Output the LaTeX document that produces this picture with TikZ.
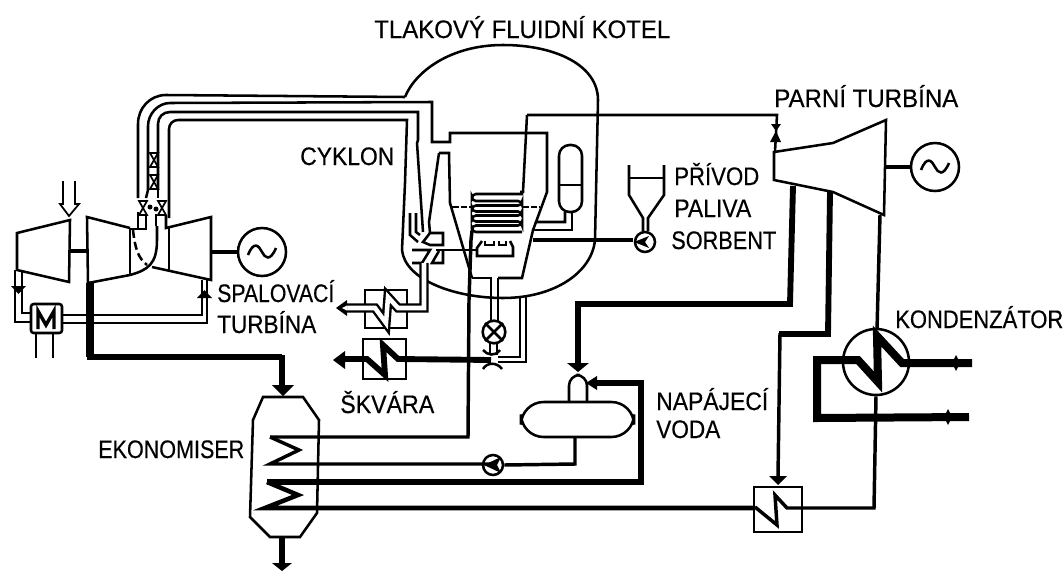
\documentclass[tikz,border=0pt]{standalone}
\usepackage{fontspec}
\setmainfont{Liberation Sans}
\newcommand{\lab}[5]{\node[anchor=base west,inner sep=0pt] (#1) at (#2,#3) {\resizebox{\dimexpr #4pt*3/4\relax}{\height}{\fontsize{19pt}{22pt}\selectfont\addfontfeature{FakeBold=0.4} #5}};}
\tikzset{
  x=0.75pt,y=-0.75pt,
  t1/.style={line width=1.3pt},
  t2/.style={line width=1.9pt},
  t3/.style={line width=2.6pt},
  t4/.style={line width=3.4pt},
  t5/.style={line width=4.4pt},
  t6/.style={line width=6pt},
  head/.style={fill=black,draw=none},
  gen/.style={circle,draw,t2,minimum size=36pt,inner sep=0pt},
  pumpc/.style={circle,draw,t2,minimum size=15pt,inner sep=0pt},
  tilde/.pic={\draw[t2] (-14,3) .. controls (-8,-12) and (-3,-6) .. (0,0) .. controls (3,6) and (8,10) .. (14,-4);},
  bow/.pic={\draw[t1] (-4,-7) -- (4,7) -- (-4,7) -- (4,-7) -- cycle;},
}
\begin{document}
\begin{tikzpicture}[line join=miter,t2]
\useasboundingbox (0,0) rectangle (1063,571);
% ---- labels
\lab{tk}{373}{38}{296}{TLAKOVÝ FLUIDNÍ KOTEL}
\lab{cy}{299}{165}{94}{CYKLON}
\lab{pt}{773}{107}{184}{PARNÍ TURBÍNA}
\lab{pr}{673}{185}{85}{PŘÍVOD}
\lab{pa}{673}{217}{77}{PALIVA}
\lab{so}{670}{249}{105}{SORBENT}
\lab{sp}{216}{302}{117}{SPALOVACÍ}
\lab{tu}{216}{333}{99}{TURBÍNA}
\lab{ko}{894}{328}{168}{KONDENZÁTOR}
\lab{na}{655}{410}{112}{NAPÁJECÍ}
\lab{vo}{655}{438}{64}{VODA}
\lab{sk}{339}{413}{94}{ŠKVÁRA}
\lab{ek}{97}{458}{146}{EKONOMISER}
% ---- left compressor
\draw (17,233) -- (70,220) -- (69,282) -- (17,270) -- cycle;
\draw[t1] (63,181) -- (63,204) -- (60,204) -- (69,216) -- (79,204) -- (75,204) -- (75,181);
\draw[t4] (70,251) -- (88,251);
% ---- gas turbine
\draw (130,228) -- (87,217) -- (88,283) -- (130,275) .. controls (148,270) and (157,264) .. (157,240) -- (157,226);
\draw (130,228) -- (130,275);
\draw (130,229) -- (146,229) -- (146,216);
\draw (166,216) -- (166,228) -- (211,217) -- (211,280) -- (152,267);
\draw (169,228) -- (169,270);
\draw[dash pattern=on 6pt off 3pt] (133,230) .. controls (135,248) and (138,258) .. (147,265);
\node[gen] (gen1) at (262,252) {};
\pic at (gen1) {tilde};
\draw[t4] (211,252) -- (gen1.west);
% ---- ducts
\draw (138,198) -- (138,124) .. controls (138,108) and (150,95) .. (166,95) -- (405,97);
\draw (148,190) -- (148,126) .. controls (148,114) and (158,103) .. (170,103) -- (432,102) -- (432,142) -- (450,142) -- (450,133) -- (547,133) -- (547,192) -- (536,222) -- (565,222) -- (565,212);
\draw (158,190) -- (158,124) .. controls (158,117) and (163,112) .. (170,112) -- (418,112) -- (418,140) -- (417,143) -- (423,232);
\draw (169,218) -- (169,129) .. controls (169,124) and (173,120) .. (178,120) -- (407,120) -- (405,183) -- (402,250);
\draw (148,190) -- (146,198); \draw (158,190) -- (158,198);
\pic at (154,160) {bow};
\pic at (154,182) {bow};
\draw[t1] (139,201) -- (147,215) -- (139,215) -- (147,201) -- cycle;
\draw[t1] (158,201) -- (166,215) -- (158,215) -- (166,201) -- cycle;
\fill (150,207) circle[radius=2.5]; \fill (156,209) circle[radius=2.5];
\draw (138,212) -- (138,228);
\draw (156,214) -- (156,226);
% ---- M box
\draw[t2,rounded corners=2] (31,304) rectangle (62,333);
\draw[t3] (38,329) -- (38,311) -- (46,325) -- (54,311) -- (54,329);
\draw (15,270) -- (15,322) -- (31,322);
\draw (22,271) -- (22,313) -- (31,313);
\fill (11,286) -- (26,286) -- (18.5,294) -- cycle;
\draw (36,333) -- (36,358); \draw (53,333) -- (53,358);
\draw (62,315) -- (202,315) -- (202,280);
\draw (62,323) -- (207,323) -- (207,280);
\fill (197,298) -- (212,298) -- (204.5,290) -- cycle;
% ---- main flue to economiser
\draw[t6] (90,283) -- (90,357);
\draw[t5] (87,357) -- (282,357);
\draw[line width=5.2pt] (282,355) -- (282,386);
\fill[head] (272,385) -- (294,385) -- (283,396) -- cycle;
% ---- vessel
\draw (405,97) .. controls (415,72) and (450,45) .. (503,45) .. controls (555,45) and (598,65) .. (598,100) -- (595,240) .. controls (592,272) and (555,298) .. (503,298) .. controls (455,298) and (405,280) .. (402,250);
% ---- cyclone, bed
\draw (439,153) -- (449,153) -- (450,203) -- (472,278);
\draw (439,153) -- (429,222) -- (430,233);
\draw (536,222) -- (533,230) -- (522,278) -- (498,278);
\draw (533,230) -- (572,230) -- (572,212);
\draw (492,278) -- (472,278);
\draw[rounded corners=8] (559,185) -- (559,145) -- (582,145) -- (582,212) -- (559,212) -- cycle;
\draw (559,185) -- (582,185);
\draw[dash pattern=on 5pt off 1.5pt] (452,207) -- (472,207) (522,207) -- (540,207);
% serpentine
\draw[t2] (527,115) -- (523,192) -- (520,192);
\draw (527,115) -- (777,115) -- (775,152);
\draw[t2,rounded corners=3] (523,194) -- (472,194) -- (472,201) -- (522,201) -- (522,205.5) -- (472,205.5) -- (472,211.5) -- (522,211.5) -- (522,215.5) -- (472,215.5) -- (472,221.5) -- (522,221.5) -- (522,225.5) -- (472,225.5) -- (472,232) -- (522,232);
\draw[t3] (472,231) -- (471,240) -- (469,300) -- (468,437) -- (270,437);
\draw (482,241) -- (477,248) -- (477,256) -- (513,256) -- (513,247) -- (510,241);
\draw (485,241) -- (485,245) -- (494,245) -- (494,241);
\draw (499,241) -- (499,245) -- (506,245) -- (506,241);
\draw[t4] (533,240) -- (633,240);
\node[pumpc] (pump0) at (645,242) {};
\fill (634,242) -- (649,236) -- (645,242) -- (649,248) -- cycle;
\draw (629,165) -- (629,195) -- (643,218) -- (643,231);
\draw (664,165) -- (664,195) -- (648,218) -- (648,231);
\draw (629,178) -- (664,178);
% seal
\draw (410,213) -- (410,235) -- (418,242);
\draw (416,213) -- (416,232) -- (420,235);
\draw (423,242) -- (430,233) -- (443,233) -- (443,245) -- (430,245) -- cycle;
\draw (412,250) -- (430,250) -- (422,263) -- (412,263);
\draw (436,250) -- (476,250);
\draw (443,250) -- (443,263) -- (432,263) -- (439,251);
% ---- gas outlet exchanger
\draw (365,290) rectangle (407,328);
\draw[line width=7pt,line join=miter] (347,308) -- (375,308) -- (386,323) -- (388,297) -- (398,308) -- (424,308) -- (424,263);
\draw[line width=3.4pt,white] (342,308) -- (375,308) -- (386,323) -- (388,297) -- (398,308) -- (424,308) -- (424,263);
\fill[head] (336,308) -- (347,300) -- (347,316) -- cycle;
\fill[white] (342,308) -- (347,305.5) -- (347,310.5) -- cycle;
% ---- ash
\draw (363,339) rectangle (406,379);
\draw[t5] (345,359) -- (367,359) -- (385,375) -- (383,345) -- (398,359) -- (491,360);
\fill[head] (333,360) -- (345,351) -- (345,369) -- cycle;
\draw (483,350) .. controls (487,355) and (495,357) .. (500,350);
\draw (483,369) .. controls (487,362) and (497,362) .. (502,369);
\node[circle,draw,t2,minimum size=17pt,inner sep=0pt] (ash) at (494,332) {};
\draw[t2] (ash.north west) -- (ash.south east) (ash.north east) -- (ash.south west);
\draw (491,278) -- (491,321);
\draw (498,278) -- (498,321);
\draw[t1] (490,342) -- (490,355); \draw[t1] (497,342) -- (497,355);
\draw[t1] (498,357) -- (520,357) -- (520,297);
\draw[t1] (498,362) -- (526,362) -- (526,297);
% ---- economiser
\draw (263,397) -- (303,397) -- (319,420) -- (317,513) -- (300,537) -- (270,537) -- (250,517) -- (253,420) -- cycle;
\draw[t3] (270,437) -- (299,450) -- (270,464) -- (493,464);
\draw[t4] (267,482) -- (298,495) -- (265,508) -- (755,508);
\draw[t5] (267,482) -- (641,482) -- (641,383) -- (595,383);
\fill[head] (586,383) -- (597,376) -- (597,390) -- cycle;
\draw[t5] (282,537) -- (282,563);
\fill[head] (272,563) -- (292,563) -- (282,571) -- cycle;
\node[pumpc] (pump1) at (493,465) {};
\fill (484,465) -- (501,457) -- (497,465) -- (501,473) -- cycle;
\draw[t3] (pump1.east) -- (575,464) -- (575,438);
% ---- feedwater tank
\draw[rounded corners=17] (521,402) rectangle (634,437);
\draw[rounded corners=8] (569,402) -- (569,375) -- (587,375) -- (587,402);
% ---- steam turbine
\draw (774,152) -- (833,143) -- (886,120) -- (884,215) -- (833,192) -- (774,180) -- cycle;
\fill (771,124) -- (781,124) -- (776,131) -- (770,142) -- (781,142) -- (776,131) -- cycle;
\node[gen] (gen2) at (935,167) {};
\pic at (gen2) {tilde};
\draw[t4] (885,167) -- (gen2.west);
\draw[t5] (793,186) -- (790,304) -- (578,304) -- (578,364);
\fill[head] (567,363) -- (589,363) -- (578,372) -- cycle;
\draw[t5] (830,192) -- (828,334) -- (779,334);
\draw[t3] (780,333) -- (778,477);
\fill[head] (769,476) -- (787,476) -- (778,485) -- cycle;
\draw[t3] (880,215) -- (877,330);
% ---- condenser
\node[circle,draw,t2,minimum size=49.5pt,inner sep=0pt] (cond) at (876,362) {};
\draw[t6] (972,363) -- (902,363) -- (877,336) -- (878,382) -- (858,360) -- (817,360) -- (817,418) -- (969,417);
\fill (956,355) -- (960,363) -- (956,371) -- (952,363) -- cycle;
\fill (948,409) -- (952,417) -- (948,425) -- (944,417) -- cycle;
\draw[t3] (cond.south) -- (874,508) -- (802,508);
% ---- small exchanger
\draw (754,487) rectangle (802,532);
\draw[t3] (755,507) -- (777,525) -- (775,495) -- (787,508) -- (802,508);
\end{tikzpicture}
\end{document}
